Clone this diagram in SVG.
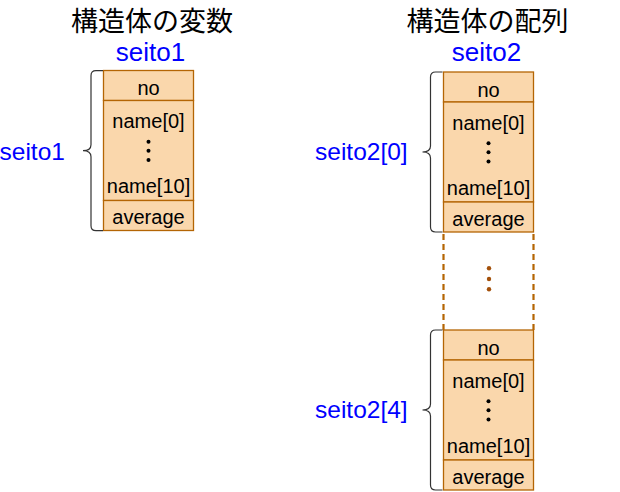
<svg xmlns="http://www.w3.org/2000/svg" width="620" height="492" viewBox="0 0 620 492">
<style>
.title{font-family:"Noto Sans CJK JP","Noto Sans",sans-serif;font-size:27px;fill:#000;text-anchor:middle}
.vname{font-family:"Liberation Sans",Arial,sans-serif;font-size:26px;fill:#0000FF;text-anchor:middle}
.lbl{font-family:"Liberation Sans",Arial,sans-serif;font-size:24.5px;fill:#0000FF}
.fld{font-family:"Liberation Sans",Arial,sans-serif;font-size:20px;fill:#000;text-anchor:middle}
.cell{fill:#FAD7AC;stroke:#B46504;stroke-width:1.3}
.brace{fill:none;stroke:#333;stroke-width:1.2}
.dash{fill:none;stroke:#B46504;stroke-width:2.2;stroke-dasharray:6,4}
.dot{fill:#000}
.bdot{fill:#A3500A}
</style>
<defs>
<g id="struct">
<rect class="cell" x="0" y="0" width="90" height="30"/>
<rect class="cell" x="0" y="30" width="90" height="100"/>
<rect class="cell" x="0" y="130" width="90" height="30"/>
<text class="fld" x="45" y="24.5">no</text>
<text class="fld" x="45" y="57.8">name[0]</text>
<circle class="dot" cx="45" cy="71.2" r="2"/>
<circle class="dot" cx="45" cy="80.2" r="2"/>
<circle class="dot" cx="45" cy="89.5" r="2"/>
<text class="fld" x="45" y="122.8">name[10]</text>
<text class="fld" x="45" y="153.5">average</text>
</g>
<path id="brace" class="brace" d="M13,0 H6 Q1,0 1,5 V74 Q1,80 -7,80 Q1,80 1,86 V155 Q1,160 6,160 H13"/>
</defs>
<text class="title" x="152" y="31.4">構造体の変数</text>
<text class="vname" x="150.5" y="60.5">seito1</text>
<text class="title" x="487.5" y="31.4">構造体の配列</text>
<text class="vname" x="486.5" y="60.5">seito2</text>
<g id="seito1">
<use href="#struct" x="103.5" y="70.5"/>
</g>
<g id="seito2-0">
<use href="#struct" x="443.5" y="72"/>
</g>
<g id="seito2-gap">
<line class="dash" x1="443.5" y1="234" x2="443.5" y2="330"/>
<line class="dash" x1="533.5" y1="234" x2="533.5" y2="330"/>
<circle class="bdot" cx="489" cy="268.3" r="2.2"/>
<circle class="bdot" cx="489" cy="279" r="2.2"/>
<circle class="bdot" cx="489" cy="289.3" r="2.2"/>
</g>
<g id="seito2-4">
<use href="#struct" x="443.5" y="330"/>
</g>
<g id="connectors">
<use href="#brace" x="90" y="70.7"/>
<use href="#brace" x="429.5" y="72"/>
<use href="#brace" x="429.5" y="330"/>
</g>
<g id="labels">
<text class="lbl" x="-0.5" y="159.5">seito1</text>
<text class="lbl" x="315" y="160">seito2[0]</text>
<text class="lbl" x="315" y="418.3">seito2[4]</text>
</g>
</svg>
